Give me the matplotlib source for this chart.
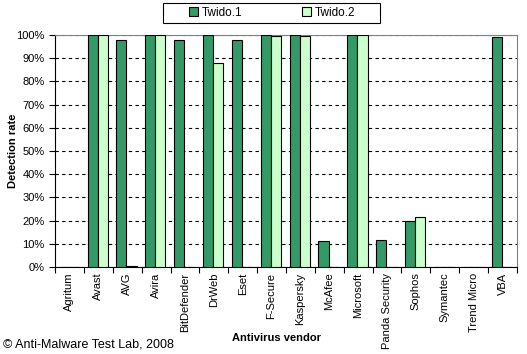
import numpy as np
import matplotlib
matplotlib.use('Agg')
import matplotlib.pyplot as plt
from matplotlib.patches import Rectangle
from matplotlib.ticker import PercentFormatter

vendors = ['Agritum', 'Avast', 'AVG', 'Avira', 'BitDefender', 'DrWeb', 'Eset',
           'F-Secure', 'Kaspersky', 'McAfee', 'Microsoft', 'Panda Security',
           'Sophos', 'Symantec', 'Trend Micro', 'VBA']
twido1 = [0, 100, 97.7, 100, 97.7, 100, 97.7, 100, 100, 11.1, 100, 11.5, 19.8, 0, 0, 99.0]
twido2 = [0, 100, 0.4, 100, 0, 87.8, 0, 99.6, 99.6, 0, 100, 0, 21.4, 0, 0, 0]

plt.rcParams['font.family'] = ['Liberation Sans', 'DejaVu Sans']

fig = plt.figure(figsize=(5.27, 3.54), dpi=100)
ax = fig.add_axes([0.1044, 0.2458, 0.8766, 0.6553])

x = np.arange(len(vendors)) + 0.5
w = 0.35
ax.bar(x - 0.2, twido1, w, color='#339966', edgecolor='black', linewidth=0.8, label='Twido.1', zorder=3)
ax.bar(x + 0.15, twido2, w, color='#CCFFCC', edgecolor='black', linewidth=0.8, label='Twido.2', zorder=3)

ax.set_xlim(0, len(vendors))
ax.set_ylim(0, 100)
ax.set_yticks(range(0, 101, 10))
ax.yaxis.set_major_formatter(PercentFormatter(decimals=0))
ax.set_xticks(np.arange(len(vendors) + 1))
ax.set_xticklabels([])
ax.set_xticks(x, minor=True)
ax.set_xticklabels(vendors, minor=True, rotation=90, fontsize=8)
ax.tick_params(axis='x', which='minor', length=0, pad=4)
ax.tick_params(axis='x', which='major', length=4, direction='out')
ax.tick_params(axis='y', labelsize=8, length=4, direction='out')

ax.grid(axis='y', color='black', linestyle=(0, (3, 3)), linewidth=0.8, zorder=0)
for s in ['top', 'right']:
    ax.spines[s].set_color('#808080')
for s in ['left', 'bottom']:
    ax.spines[s].set_color('black')

fig.text(13 / 527, 1 - 151 / 354, 'Detection rate', fontsize=8, fontweight='bold',
         rotation=90, ha='center', va='center')
fig.text(277 / 527, 1 - 338 / 354, 'Antivirus vendor', fontsize=8, fontweight='bold',
         ha='center', va='center')

# legend box drawn separately so its width matches
fig.patches.append(Rectangle((163 / 527, 1 - 23 / 354), 217 / 527, 20 / 354,
                             transform=fig.transFigure, facecolor='white',
                             edgecolor='black', linewidth=0.8, zorder=5))
leg = fig.legend(loc='center', bbox_to_anchor=(272 / 527, 1 - 13 / 354), ncol=2, fontsize=8.5,
                 frameon=False, handlelength=0.8, handleheight=0.8,
                 columnspacing=5.0, borderpad=0.3, handletextpad=0.3)
leg.set_zorder(6)

fig.text(0.006, 0.018, '\u00a9 Anti-Malware Test Lab, 2008', fontsize=9)

fig.savefig('out.png', dpi=100)
